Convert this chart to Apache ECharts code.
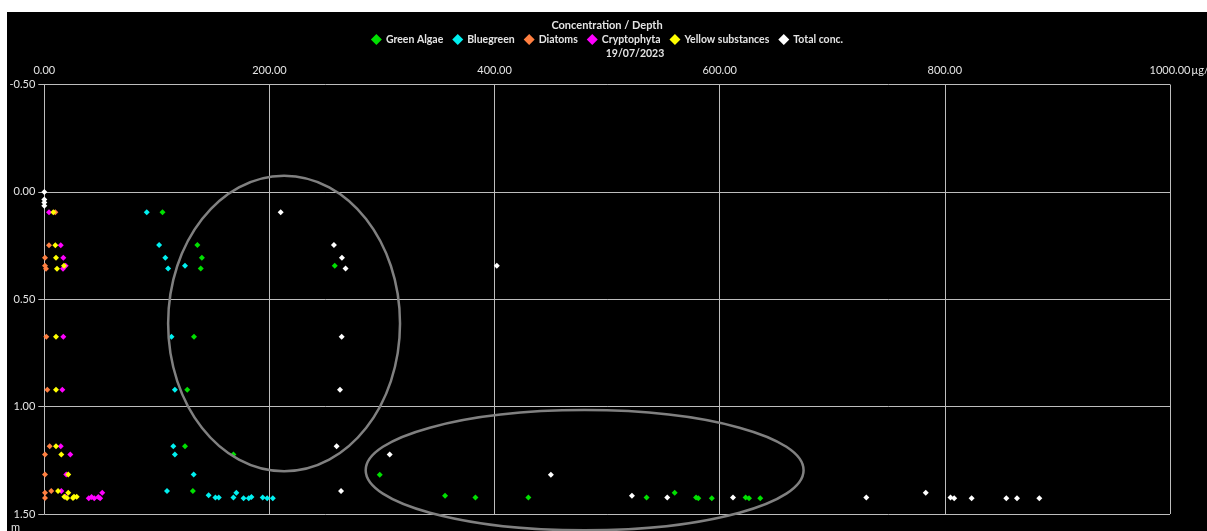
<!DOCTYPE html>
<html>
<head>
<meta charset="utf-8">
<script src="https://cdn.jsdelivr.net/npm/echarts@6/dist/echarts.min.js"></script>
<style>
  html, body { margin: 0; padding: 0; background: #ffffff; width: 1207px; height: 531px; overflow: hidden; }
  #chart { position: absolute; left: 7px; top: 12px; width: 1200px; height: 519px; background: #000000; }
</style>
</head>
<body>
<div id="chart"></div>
<script>
// Concentration (µg/l) against depth (m) for each pigment group, 19/07/2023
const seriesNames = ['Green Algae', 'Bluegreen', 'Diatoms', 'Cryptophyta', 'Yellow substances', 'Total conc.'];
const seriesColors = ['#00e000', '#00f0f0', '#ff7f40', '#ff00ff', '#ffff00', '#ffffff'];

const greenConc  = [105, 136, 140, 139, 258, 133, 127, 125, 168, 132, 298, 356, 383, 430, 535, 560, 579, 581, 593, 623, 626, 636];
const greenDepth = [0.095, 0.247, 0.307, 0.357, 0.344, 0.675, 0.922, 1.185, 1.223, 1.393, 1.317, 1.415, 1.423, 1.423, 1.423, 1.401, 1.423, 1.427, 1.427, 1.423, 1.427, 1.427];

const blueConc  = [91, 102, 107.5, 110, 125, 113, 116, 114.6, 116, 132.7, 109, 146, 152, 155, 168, 170.6, 177, 181.6, 184, 194, 198, 203];
const blueDepth = [0.095, 0.247, 0.307, 0.357, 0.344, 0.675, 0.922, 1.185, 1.223, 1.316, 1.393, 1.413, 1.423, 1.423, 1.423, 1.401, 1.427, 1.427, 1.421, 1.423, 1.427, 1.427];

const diatomConc  = [9.8, 4.2, 0.6, 0.6, 1.5, 1.8, 2.7, 4.8, 0.6, 0.6, 6.2, 0.6, 0.6];
const diatomDepth = [0.095, 0.248, 0.307, 0.344, 0.358, 0.675, 0.922, 1.185, 1.223, 1.316, 1.393, 1.401, 1.426];

const cryptoConc  = [4.2, 14.6, 16.9, 19, 16.6, 16.9, 16, 14.6, 23.1, 19.5, 15.1, 18.7, 51.5, 39.5, 42, 44.4, 48, 49.6];
const cryptoDepth = [0.095, 0.248, 0.307, 0.344, 0.358, 0.675, 0.922, 1.185, 1.223, 1.316, 1.393, 1.42, 1.401, 1.427, 1.421, 1.427, 1.421, 1.427];

const yellowConc  = [8, 9.8, 10.4, 17.5, 11.3, 10.4, 10.4, 10.4, 15.1, 21.3, 12.2, 21.3, 17.8, 20.2, 25.5, 26.4, 28.8];
const yellowDepth = [0.095, 0.248, 0.307, 0.344, 0.358, 0.675, 0.922, 1.185, 1.223, 1.316, 1.393, 1.401, 1.42, 1.426, 1.426, 1.42, 1.42];

const totalConc  = [0, 0, 0, 0, 210, 257.3, 264.4, 267.6, 402, 264.2, 262.7, 259.7, 306.8, 263.6, 450, 522, 553.4, 611.8, 730.2, 783, 805, 808.3, 823.8, 854.6, 864.1, 883.9];
const totalDepth = [0, 0.035, 0.05, 0.065, 0.095, 0.247, 0.307, 0.357, 0.344, 0.675, 0.922, 1.185, 1.223, 1.393, 1.317, 1.415, 1.423, 1.423, 1.423, 1.401, 1.423, 1.427, 1.427, 1.427, 1.427, 1.427];

// Axis ranges and ticks
const concMin = 0, concMax = 1000, concStep = 200;
const depthMin = -0.5, depthMax = 1.5, depthStep = 0.5;
const concUnit = 'µg/l';
const depthUnit = 'm';

// Highlighted groups of readings: centre and radii in data units [conc, depth]
const highlightCentres = [[213, 0.613], [480, 1.296]];
const highlightRadii   = [[103, 0.688], [194.5, 0.28]];

const FONT = 'Lato, "Open Sans", sans-serif';
const TEXT = '#e4e4e4';
const GRID = '#bdbdbd';

function pairs(xs, ys) { return xs.map((x, i) => [x, ys[i]]); }
const seriesData = [
  pairs(greenConc, greenDepth),
  pairs(blueConc, blueDepth),
  pairs(diatomConc, diatomDepth),
  pairs(cryptoConc, cryptoDepth),
  pairs(yellowConc, yellowDepth),
  pairs(totalConc, totalDepth)
];

const chart = echarts.init(document.getElementById('chart'), null, { renderer: 'canvas' });

chart.setOption({
  backgroundColor: '#000000',
  animation: false,
  textStyle: { fontFamily: FONT },
  title: {
    text: 'Concentration / Depth',
    left: 'center',
    top: 8,
    padding: 0,
    textStyle: { color: TEXT, fontSize: 11, fontWeight: 'bold', fontFamily: FONT }
  },
  legend: {
    data: seriesNames.map((n, i) => ({ name: n, itemStyle: { color: seriesColors[i], opacity: 1 } })),
    left: 'center',
    top: 22,
    padding: 0,
    icon: 'diamond',
    itemWidth: 11,
    itemHeight: 11,
    itemGap: 9,
    textStyle: { color: TEXT, fontSize: 10.5, fontWeight: 'bold', fontFamily: FONT, padding: [0, 0, 0, -1] }
  },
  grid: { left: 37.3, right: 37, top: 72.5, bottom: 17, containLabel: false, outerBoundsMode: 'none' },
  xAxis: {
    type: 'value',
    position: 'top',
    min: concMin,
    max: concMax,
    interval: concStep,
    axisLine: { show: true, lineStyle: { color: GRID, width: 1 } },
    axisTick: { show: true, length: 6, lineStyle: { color: GRID } },
    splitLine: { show: true, lineStyle: { color: GRID, width: 1 } },
    axisLabel: {
      color: TEXT,
      fontSize: 11,
      fontFamily: FONT,
      margin: 9,
      hideOverlap: false,
      formatter: v => v === concMax ? '{p|}{a|' + v.toFixed(2) + '}{u|' + concUnit + '}' : v.toFixed(2),
      rich: {
        p: { width: 22 },
        a: { color: TEXT, fontSize: 11, fontFamily: FONT },
        u: { color: TEXT, fontSize: 11, fontFamily: FONT, width: 22, align: 'left' }
      }
    }
  },
  yAxis: {
    type: 'value',
    inverse: true,
    min: depthMin,
    max: depthMax,
    interval: depthStep,
    axisLine: { show: true, lineStyle: { color: GRID, width: 1 } },
    axisTick: { show: true, length: 6, lineStyle: { color: GRID } },
    splitLine: { show: true, lineStyle: { color: GRID, width: 1 } },
    axisLabel: {
      color: TEXT,
      fontSize: 11,
      fontFamily: FONT,
      margin: 9,
      formatter: v => v.toFixed(2)
    }
  },
  series: seriesNames.map((n, i) => ({
    name: n,
    type: 'scatter',
    symbol: 'diamond',
    symbolSize: 6,
    itemStyle: { color: seriesColors[i], opacity: 1 },
    z: 2 + i,
    data: seriesData[i]
  }))
});

// Date caption, depth unit and ellipses around the highlighted groups
const graphics = [
  {
    type: 'text', x: 628, y: 42, z: 50,
    style: { text: '19/07/2023', fill: TEXT, font: 'bold 10.5px ' + FONT, align: 'center', verticalAlign: 'middle' }
  },
  {
    type: 'text', x: 4, y: 515, z: 50,
    style: { text: depthUnit, fill: TEXT, font: '11px ' + FONT, align: 'left', verticalAlign: 'middle' }
  }
];
highlightCentres.forEach((c, i) => {
  const p = chart.convertToPixel({ gridIndex: 0 }, c);
  const px = chart.convertToPixel({ gridIndex: 0 }, [c[0] + highlightRadii[i][0], c[1] + highlightRadii[i][1]]);
  graphics.push({
    type: 'ellipse',
    z: 100,
    silent: true,
    shape: { cx: p[0], cy: p[1], rx: Math.abs(px[0] - p[0]), ry: Math.abs(px[1] - p[1]) },
    style: { fill: null, stroke: '#808080', lineWidth: 2.5 }
  });
});
chart.setOption({ graphic: graphics });
</script>
</body>
</html>
